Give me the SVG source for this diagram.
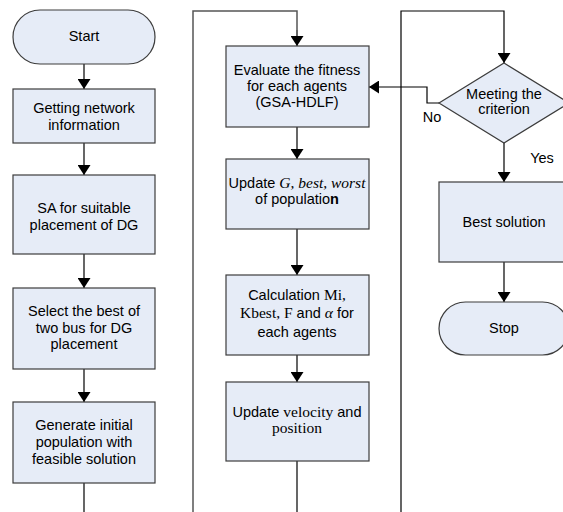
<svg xmlns="http://www.w3.org/2000/svg" width="563" height="512" viewBox="0 0 563 512">
<style>
.n{fill:#e6ecf7;stroke:#3c3c3c;stroke-width:1.2}
.t{font-family:"Liberation Sans",Arial,sans-serif;font-size:14.5px;fill:#000;text-anchor:middle}
.s{font-family:"Liberation Serif","Times New Roman",serif;font-size:15.5px}
.i{font-style:italic}
.c{fill:none;stroke:#000;stroke-width:1.2}
.g{fill:none;stroke:#555;stroke-width:1.5}
</style>
<defs>
<marker id="ah" markerWidth="10" markerHeight="13" refX="10" refY="6.5" orient="auto" markerUnits="userSpaceOnUse">
<path d="M0,0 L10,6.5 L0,13 Z" fill="#000"/>
</marker>
</defs>
<rect width="563" height="512" fill="#fff"/>
<g id="connectors">
<line class="c" x1="84" y1="64" x2="84" y2="89" marker-end="url(#ah)"/>
<line class="c" x1="84" y1="143" x2="84" y2="175" marker-end="url(#ah)"/>
<line class="c" x1="84" y1="254" x2="84" y2="288" marker-end="url(#ah)"/>
<line class="c" x1="84" y1="369" x2="84" y2="402" marker-end="url(#ah)"/>
<line class="c" x1="84" y1="483" x2="84" y2="512"/>
<polyline class="g" points="193,512 193,11 297,11 297,30"/>
<line class="c" x1="297" y1="30" x2="297" y2="46" marker-end="url(#ah)"/>
<line class="c" x1="297" y1="127" x2="297" y2="159" marker-end="url(#ah)"/>
<line class="c" x1="297" y1="229" x2="297" y2="275" marker-end="url(#ah)"/>
<line class="c" x1="297" y1="355" x2="297" y2="382" marker-end="url(#ah)"/>
<line class="c" x1="297" y1="461" x2="297" y2="512"/>
<polyline class="c" points="401,512 401,11 504,11 504,63" marker-end="url(#ah)"/>
<polyline class="c" points="439,103 427,103 427,87 369,87" marker-end="url(#ah)"/>
<line class="c" x1="504" y1="143" x2="504" y2="182" marker-end="url(#ah)"/>
<line class="c" x1="504" y1="262" x2="504" y2="302" marker-end="url(#ah)"/>
<text class="t" x="432" y="122">No</text>
<text class="t" x="542" y="163">Yes</text>
</g>
<g id="start"><rect class="n" x="13" y="10" width="142" height="54" rx="27"/><text class="t" x="84" y="41">Start</text></g>
<g id="getinfo"><rect class="n" x="13" y="89" width="142" height="54"/><text class="t" x="84" y="113">Getting network</text><text class="t" x="84" y="130">information</text></g>
<g id="sa"><rect class="n" x="13" y="175" width="142" height="79"/><text class="t" x="84" y="213">SA for suitable</text><text class="t" x="84" y="230">placement of DG</text></g>
<g id="select"><rect class="n" x="13" y="288" width="142" height="81"/><text class="t" x="84" y="316">Select the best of</text><text class="t" x="84" y="333">two bus for DG</text><text class="t" x="84" y="349">placement</text></g>
<g id="generate"><rect class="n" x="13" y="402" width="142" height="81"/><text class="t" x="84" y="430">Generate initial</text><text class="t" x="84" y="447">population with</text><text class="t" x="84" y="464">feasible solution</text></g>
<g id="evaluate"><rect class="n" x="226" y="46" width="143" height="81"/><text class="t" x="297" y="75">Evaluate the fitness</text><text class="t" x="297" y="91">for each agents</text><text class="t" x="297" y="107">(GSA-HDLF)</text></g>
<g id="update1"><rect class="n" x="226" y="159" width="143" height="70"/><text class="t" x="297" y="188">Update <tspan class="s i">G, best, worst</tspan></text><text class="t" x="297" y="204">of populatio<tspan font-weight="bold">n</tspan></text></g>
<g id="calc"><rect class="n" x="226" y="275" width="143" height="80"/><text class="t" x="297" y="300">Calculation <tspan class="s">Mi,</tspan></text><text class="t" x="297" y="318"><tspan class="s">Kbest, F</tspan> and <tspan class="s i">α</tspan> for</text><text class="t" x="297" y="337">each agents</text></g>
<g id="update2"><rect class="n" x="226" y="382" width="143" height="79"/><text class="t" x="297" y="417">Update <tspan class="s">velocity</tspan> and</text><text class="t s" x="297" y="433">position</text></g>
<g id="criterion"><polygon class="n" points="504,63 569,103 504,143 439,103"/><text class="t" x="504" y="99">Meeting the</text><text class="t" x="504" y="114">criterion</text></g>
<g id="best"><rect class="n" x="439" y="182" width="130" height="80"/><text class="t" x="504" y="227">Best solution</text></g>
<g id="stop"><rect class="n" x="439" y="302" width="130" height="53" rx="26.5"/><text class="t" x="504" y="333">Stop</text></g>
</svg>
